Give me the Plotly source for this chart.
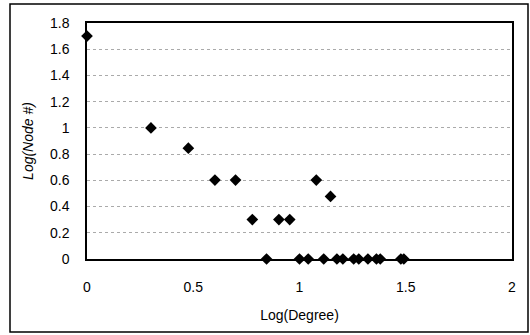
import plotly.graph_objects as go

log_degree = [0.0, 0.301, 0.477, 0.602, 0.699, 0.778, 0.845, 0.903, 0.954, 1.0,
              1.041, 1.079, 1.114, 1.146, 1.176, 1.204, 1.255, 1.279, 1.322,
              1.362, 1.380, 1.477, 1.491]
log_nodes = [1.70, 1.00, 0.845, 0.602, 0.602, 0.301, 0.0, 0.301, 0.301, 0.0,
             0.0, 0.602, 0.0, 0.477, 0.0, 0.0, 0.0, 0.0, 0.0,
             0.0, 0.0, 0.0, 0.0]

fig = go.Figure()
fig.add_trace(go.Scatter(
    x=log_degree, y=log_nodes, mode="markers",
    marker=dict(symbol="diamond", size=9, color="black"),
    cliponaxis=False, showlegend=False,
))

font = dict(family="Liberation Sans, Arial, sans-serif", size=14, color="black")

fig.update_layout(
    width=530, height=335,
    margin=dict(l=87, r=18, t=23, b=76),
    paper_bgcolor="white", plot_bgcolor="white",
    font=font,
    xaxis=dict(
        range=[0, 2], dtick=0.5, tick0=0, showgrid=False, zeroline=False,
        showline=True, linecolor="black", linewidth=1.5, mirror=True,
        ticks="", ticklabelstandoff=14,
        title=dict(text="Log(Degree)", font=font, standoff=17),
    ),
    yaxis=dict(
        range=[0, 1.8], dtick=0.2, tick0=0, showgrid=True,
        gridcolor="#aaaaaa", griddash="dot", gridwidth=1, zeroline=False,
        showline=True, linecolor="black", linewidth=1.5, mirror=True,
        ticks="", ticklabelstandoff=13,
        title=dict(text="<i>Log(Node #)</i>", font=font, standoff=13),
    ),
)

fig.add_shape(type="rect", xref="paper", yref="paper",
              x0=(10 - 87) / 425, x1=(528 - 87) / 425,
              y0=(259 - 332) / 236, y1=(259 - 4) / 236,
              line=dict(color="black", width=1.5), layer="below")

fig.write_html("out.html")
